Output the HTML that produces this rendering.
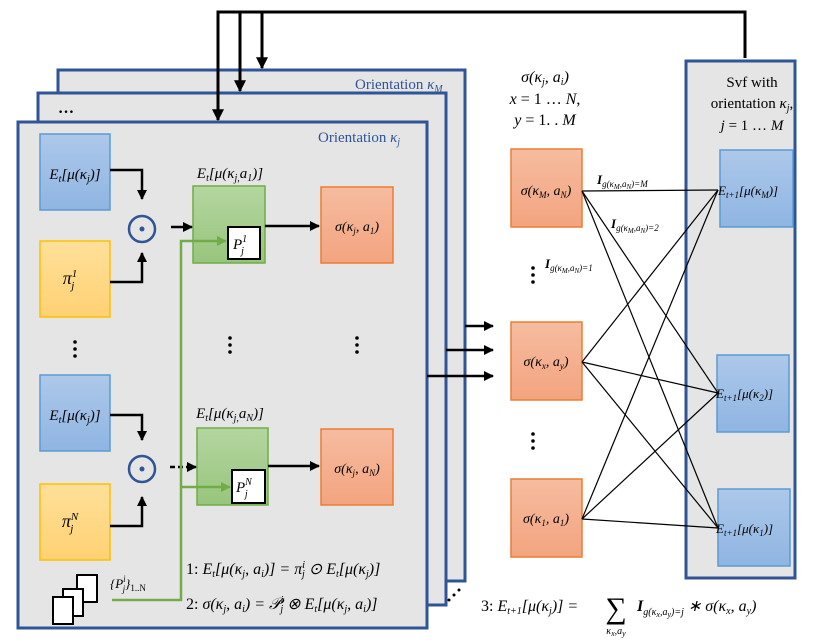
<!DOCTYPE html><html><head><style>body{margin:0;background:#fff}svg{display:block}text{font-family:"Liberation Serif",serif}</style></head><body>
<svg width="832" height="644" viewBox="0 0 832 644" xmlns="http://www.w3.org/2000/svg">
<defs>
<marker id="a" viewBox="0 0 10 10" refX="9" refY="5" markerWidth="4" markerHeight="4" orient="auto"><path d="M0,0L10,5L0,10z" fill="#000"/></marker>
<marker id="g" viewBox="0 0 10 10" refX="9" refY="5" markerWidth="4" markerHeight="4" orient="auto"><path d="M0,0L10,5L0,10z" fill="#70ad47"/></marker>
<linearGradient id="bl" x1="0" y1="0" x2="0" y2="1"><stop offset="0" stop-color="#adc8ea"/><stop offset="1" stop-color="#8fb5e2"/></linearGradient>
<linearGradient id="ye" x1="0" y1="0" x2="0" y2="1"><stop offset="0" stop-color="#ffe09a"/><stop offset="1" stop-color="#ffd173"/></linearGradient>
<linearGradient id="or" x1="0" y1="0" x2="0" y2="1"><stop offset="0" stop-color="#f6bca0"/><stop offset="1" stop-color="#f3a47f"/></linearGradient>
<linearGradient id="gr" x1="0" y1="0" x2="0" y2="1"><stop offset="0" stop-color="#b4d6a0"/><stop offset="1" stop-color="#98c57d"/></linearGradient>
</defs>
<!-- panels -->
<rect x="58" y="70" width="407" height="511" fill="#e5e5e5" stroke="#2f5597" stroke-width="3"/>
<text x="355" y="89" font-size="15" fill="#2f5597">Orientation <tspan font-style="italic">κ</tspan><tspan font-size="10" dy="3" font-style="italic">M</tspan></text>
<rect x="38" y="93" width="408" height="512" fill="#e5e5e5" stroke="#2f5597" stroke-width="3"/>
<text x="58" y="113" font-size="16" font-weight="bold">…</text>
<rect x="18" y="122" width="409" height="506" fill="#e5e5e5" stroke="#2f5597" stroke-width="3"/>
<text x="318" y="142" font-size="15" fill="#2f5597">Orientation <tspan font-style="italic">κ</tspan><tspan font-size="10" dy="3" font-style="italic">j</tspan></text>
<!-- feedback lines -->
<g stroke="#000" stroke-width="3" fill="none">
<polyline points="745,58 745,12 218,12 218,120" marker-end="url(#a)"/>
<polyline points="240,12 240,91" marker-end="url(#a)"/>
<polyline points="262,12 262,68" marker-end="url(#a)"/>
</g>
<!-- left boxes -->
<g stroke-width="1.5">
<rect x="40" y="134" width="70" height="76" fill="url(#bl)" stroke="#5b9bd5"/>
<rect x="40" y="241" width="70" height="76" fill="url(#ye)" stroke="#ffc000"/>
<rect x="40" y="375" width="70" height="76" fill="url(#bl)" stroke="#5b9bd5"/>
<rect x="40" y="484" width="70" height="76" fill="url(#ye)" stroke="#ffc000"/>
<rect x="193" y="186" width="72" height="77" fill="url(#gr)" stroke="#70ad47"/>
<rect x="197" y="428" width="71" height="77" fill="url(#gr)" stroke="#70ad47"/>
<rect x="321" y="187" width="72" height="76" fill="url(#or)" stroke="#ed7d31"/>
<rect x="321" y="429" width="72" height="76" fill="url(#or)" stroke="#ed7d31"/>
<rect x="511" y="149" width="71" height="78" fill="url(#or)" stroke="#ed7d31"/>
<rect x="511" y="322" width="71" height="78" fill="url(#or)" stroke="#ed7d31"/>
<rect x="511" y="479" width="71" height="78" fill="url(#or)" stroke="#ed7d31"/>
</g>
<g font-size="15" font-style="italic" text-anchor="middle">
<text x="75" y="179">E<tspan font-size="10" dy="3">t</tspan><tspan dy="-3">[μ(κ</tspan><tspan font-size="10" dy="3">j</tspan><tspan dy="-3">)]</tspan></text>
<text x="75" y="420">E<tspan font-size="10" dy="3">t</tspan><tspan dy="-3">[μ(κ</tspan><tspan font-size="10" dy="3">j</tspan><tspan dy="-3">)]</tspan></text>
<text x="70" y="284" font-size="18">π<tspan font-size="11" dy="-7">1</tspan><tspan font-size="11" dx="-6" dy="12">j</tspan></text>
<text x="70" y="527" font-size="18">π<tspan font-size="11" dy="-7">N</tspan><tspan font-size="11" dx="-8" dy="12">j</tspan></text>
<text x="230" y="178">E<tspan font-size="10" dy="3">t</tspan><tspan dy="-3">[μ(κ</tspan><tspan font-size="10" dy="3">j,</tspan><tspan dy="-3">a</tspan><tspan font-size="10" dy="3">1</tspan><tspan dy="-3">)]</tspan></text>
<text x="230" y="418">E<tspan font-size="10" dy="3">t</tspan><tspan dy="-3">[μ(κ</tspan><tspan font-size="10" dy="3">j,</tspan><tspan dy="-3">a</tspan><tspan font-size="10" dy="3">N</tspan><tspan dy="-3">)]</tspan></text>
<text x="357" y="231" font-size="14">σ(κ<tspan font-size="9" dy="3">j</tspan><tspan dy="-3">, a</tspan><tspan font-size="9" dy="3">1</tspan><tspan dy="-3">)</tspan></text>
<text x="357" y="473" font-size="14">σ(κ<tspan font-size="9" dy="3">j</tspan><tspan dy="-3">, a</tspan><tspan font-size="9" dy="3">N</tspan><tspan dy="-3">)</tspan></text>
<text x="546" y="195" font-size="14">σ(κ<tspan font-size="9" dy="3">M</tspan><tspan dy="-3">, a</tspan><tspan font-size="9" dy="3">N</tspan><tspan dy="-3">)</tspan></text>
<text x="546" y="366" font-size="14">σ(κ<tspan font-size="9" dy="3">x</tspan><tspan dy="-3">, a</tspan><tspan font-size="9" dy="3">y</tspan><tspan dy="-3">)</tspan></text>
<text x="546" y="523" font-size="14">σ(κ<tspan font-size="9" dy="3">1</tspan><tspan dy="-3">, a</tspan><tspan font-size="9" dy="3">1</tspan><tspan dy="-3">)</tspan></text>
</g>
<!-- P boxes -->
<rect x="228" y="227" width="32" height="32" fill="#fff" stroke="#000" stroke-width="2"/>
<text x="233" y="249" font-size="15" font-style="italic">P<tspan font-size="10" dy="-7">1</tspan><tspan font-size="10" dx="-6" dy="12">j</tspan></text>
<rect x="232" y="470" width="33" height="33" fill="#fff" stroke="#000" stroke-width="2"/>
<text x="236" y="492" font-size="15" font-style="italic">P<tspan font-size="10" dy="-7">N</tspan><tspan font-size="10" dx="-7" dy="12">j</tspan></text>
<!-- odot -->
<g fill="none" stroke="#2f5597" stroke-width="2.5"><circle cx="142" cy="229" r="13"/><circle cx="142" cy="469" r="13"/></g>
<circle cx="142" cy="229" r="2.5" fill="#2f5597"/><circle cx="142" cy="469" r="2.5" fill="#2f5597"/>
<!-- black arrows left -->
<g stroke="#000" stroke-width="2.5" fill="none">
<polyline points="110,170 142,170 142,199" marker-end="url(#a)"/>
<polyline points="110,282 142,282 142,253" marker-end="url(#a)"/>
<line x1="171" y1="227" x2="192" y2="227" marker-end="url(#a)"/>
<line x1="265" y1="226" x2="319" y2="226" marker-end="url(#a)"/>
<polyline points="110,415 142,415 142,440" marker-end="url(#a)"/>
<polyline points="110,526 142,526 142,497" marker-end="url(#a)"/>
<line x1="170" y1="467" x2="196" y2="467" stroke-dasharray="5,3" marker-end="url(#a)"/>
<line x1="268" y1="466" x2="319" y2="466" marker-end="url(#a)"/>
<line x1="465" y1="326" x2="493" y2="326" marker-end="url(#a)"/>
<line x1="446" y1="350" x2="493" y2="350" marker-end="url(#a)"/>
<line x1="427" y1="376" x2="493" y2="376" marker-end="url(#a)"/>
</g>
<!-- green lines -->
<g stroke="#70ad47" stroke-width="2.5" fill="none">
<polyline points="112,600 181,600 181,241 226,241" marker-end="url(#g)"/>
<line x1="181" y1="487" x2="230" y2="487" marker-end="url(#g)"/>
</g>
<!-- vertical dots -->
<g fill="#000">
<circle cx="75" cy="342" r="1.8"/><circle cx="75" cy="349" r="1.8"/><circle cx="75" cy="356" r="1.8"/>
<circle cx="230" cy="338" r="1.8"/><circle cx="230" cy="345" r="1.8"/><circle cx="230" cy="352" r="1.8"/>
<circle cx="357" cy="338" r="1.8"/><circle cx="357" cy="345" r="1.8"/><circle cx="357" cy="352" r="1.8"/>
<circle cx="533" cy="268" r="1.8"/><circle cx="533" cy="275" r="1.8"/><circle cx="533" cy="282" r="1.8"/>
<circle cx="533" cy="434" r="1.8"/><circle cx="533" cy="441" r="1.8"/><circle cx="533" cy="448" r="1.8"/>
<circle cx="759" cy="296" r="1.8"/><circle cx="759" cy="303" r="1.8"/><circle cx="759" cy="310" r="1.8"/>
<circle cx="449" cy="600" r="1.5"/><circle cx="454" cy="595" r="1.5"/><circle cx="459" cy="590" r="1.5"/>
</g>
<!-- stacked pages icon -->
<g fill="#fff" stroke="#000" stroke-width="2">
<rect x="77" y="575" width="20" height="27"/><rect x="63" y="589" width="20" height="27"/><rect x="53" y="597" width="20" height="27"/>
</g>
<text x="110" y="588" font-size="13" font-style="italic">{P<tspan font-size="9" dy="-6">i</tspan><tspan font-size="9" dx="-3" dy="10">j</tspan><tspan dy="-4">}</tspan><tspan font-size="9" dy="3" font-style="normal">1..N</tspan></text>
<text x="186" y="574" font-size="16">1: <tspan font-style="italic">E<tspan font-size="10" dy="3">t</tspan><tspan dy="-3">[μ(κ</tspan><tspan font-size="10" dy="3">j</tspan><tspan dy="-3">, a</tspan><tspan font-size="10" dy="3">i</tspan><tspan dy="-3">)] = π</tspan><tspan font-size="10" dy="-6">i</tspan><tspan font-size="10" dx="-3" dy="9">j</tspan><tspan dy="-3"> ⊙ E</tspan><tspan font-size="10" dy="3">t</tspan><tspan dy="-3">[μ(κ</tspan><tspan font-size="10" dy="3">j</tspan><tspan dy="-3">)]</tspan></tspan></text>
<text x="186" y="609" font-size="16">2: <tspan font-style="italic">σ(κ<tspan font-size="10" dy="3">j</tspan><tspan dy="-3">, a</tspan><tspan font-size="10" dy="3">i</tspan><tspan dy="-3">) = 𝒫</tspan><tspan font-size="10" dy="-6">i</tspan><tspan font-size="10" dx="-3" dy="9">j</tspan><tspan dy="-3"> ⊗ E</tspan><tspan font-size="10" dy="3">t</tspan><tspan dy="-3">[μ(κ</tspan><tspan font-size="10" dy="3">j</tspan><tspan dy="-3">, a</tspan><tspan font-size="10" dy="3">i</tspan><tspan dy="-3">)]</tspan></tspan></text>
<!-- top labels middle -->
<g font-size="16" font-style="italic" text-anchor="middle">
<text x="545" y="82">σ(κ<tspan font-size="10" dy="3">j</tspan><tspan dy="-3">, a</tspan><tspan font-size="10" dy="3">i</tspan><tspan dy="-3">)</tspan></text>
<text x="545" y="104">x <tspan font-style="normal">= 1 … </tspan>N<tspan font-style="normal">,</tspan></text>
<text x="545" y="125">y <tspan font-style="normal">= 1. . </tspan>M</text>
</g>
<!-- Svf panel -->
<rect x="686" y="61" width="109" height="517" fill="#e5e5e5" stroke="#2f5597" stroke-width="3"/>
<g font-size="15" text-anchor="middle">
<text x="752" y="87">Svf with</text>
<text x="752" y="108">orientation <tspan font-style="italic">κ</tspan><tspan font-size="10" dy="3" font-style="italic">j</tspan><tspan dy="-3">,</tspan></text>
<text x="752" y="130"><tspan font-style="italic">j</tspan> = 1 … <tspan font-style="italic">M</tspan></text>
</g>
<g stroke="#5b9bd5" stroke-width="1.5">
<rect x="720" y="150" width="73" height="77" fill="url(#bl)"/>
<rect x="717" y="355" width="72" height="77" fill="url(#bl)"/>
<rect x="718" y="489" width="72" height="77" fill="url(#bl)"/>
</g>
<g font-size="13" font-style="italic">
<text x="718" y="195">E<tspan font-size="9" dy="3">t+1</tspan><tspan dy="-3">[μ(κ</tspan><tspan font-size="9" dy="3">M</tspan><tspan dy="-3">)]</tspan></text>
<text x="716" y="398">E<tspan font-size="9" dy="3">t+1</tspan><tspan dy="-3">[μ(κ</tspan><tspan font-size="9" dy="3">2</tspan><tspan dy="-3">)]</tspan></text>
<text x="716" y="533">E<tspan font-size="9" dy="3">t+1</tspan><tspan dy="-3">[μ(κ</tspan><tspan font-size="9" dy="3">1</tspan><tspan dy="-3">)]</tspan></text>
</g>
<!-- connection lines -->
<g stroke="#000" stroke-width="1.2">
<line x1="582" y1="191" x2="718" y2="190"/><line x1="582" y1="191" x2="718" y2="393"/><line x1="582" y1="191" x2="718" y2="528"/>
<line x1="582" y1="362" x2="718" y2="190"/><line x1="582" y1="362" x2="718" y2="393"/><line x1="582" y1="362" x2="718" y2="528"/>
<line x1="582" y1="519" x2="718" y2="190"/><line x1="582" y1="519" x2="718" y2="393"/><line x1="582" y1="519" x2="718" y2="528"/>
</g>
<g font-size="13" font-style="italic">
<text x="597" y="184"><tspan font-weight="bold">I</tspan><tspan font-size="9" dy="3">g(κ</tspan><tspan font-size="7" dy="2">M</tspan><tspan font-size="9" dy="-2">,a</tspan><tspan font-size="7" dy="2">N</tspan><tspan font-size="9" dy="-2">)=M</tspan></text>
<text x="611" y="228"><tspan font-weight="bold">I</tspan><tspan font-size="9" dy="3">g(κ</tspan><tspan font-size="7" dy="2">M</tspan><tspan font-size="9" dy="-2">,a</tspan><tspan font-size="7" dy="2">N</tspan><tspan font-size="9" dy="-2">)=2</tspan></text>
<text x="545" y="268"><tspan font-weight="bold">I</tspan><tspan font-size="9" dy="3">g(κ</tspan><tspan font-size="7" dy="2">M</tspan><tspan font-size="9" dy="-2">,a</tspan><tspan font-size="7" dy="2">N</tspan><tspan font-size="9" dy="-2">)=1</tspan></text>
</g>
<!-- eq 3 -->
<text x="481" y="611" font-size="16">3: <tspan font-style="italic">E<tspan font-size="10" dy="3">t+1</tspan><tspan dy="-3">[μ(κ</tspan><tspan font-size="10" dy="3">j</tspan><tspan dy="-3">)] =</tspan></tspan></text>
<text x="616" y="618" font-size="30" text-anchor="middle">∑</text>
<text x="616" y="634" font-size="10" font-style="italic" text-anchor="middle">κ<tspan font-size="8" dy="2">x</tspan><tspan dy="-2">,a</tspan><tspan font-size="8" dy="2">y</tspan></text>
<text x="637" y="611" font-size="16" font-style="italic"><tspan font-weight="bold">I</tspan><tspan font-size="10" dy="4">g(κ</tspan><tspan font-size="8" dy="2">x</tspan><tspan font-size="10" dy="-2">,a</tspan><tspan font-size="8" dy="2">y</tspan><tspan font-size="10" dy="-2">)=j</tspan><tspan dy="-4"> ∗ σ(κ</tspan><tspan font-size="10" dy="3">x</tspan><tspan dy="-3">, a</tspan><tspan font-size="10" dy="3">y</tspan><tspan dy="-3">)</tspan></text>
</svg>
</body></html>
